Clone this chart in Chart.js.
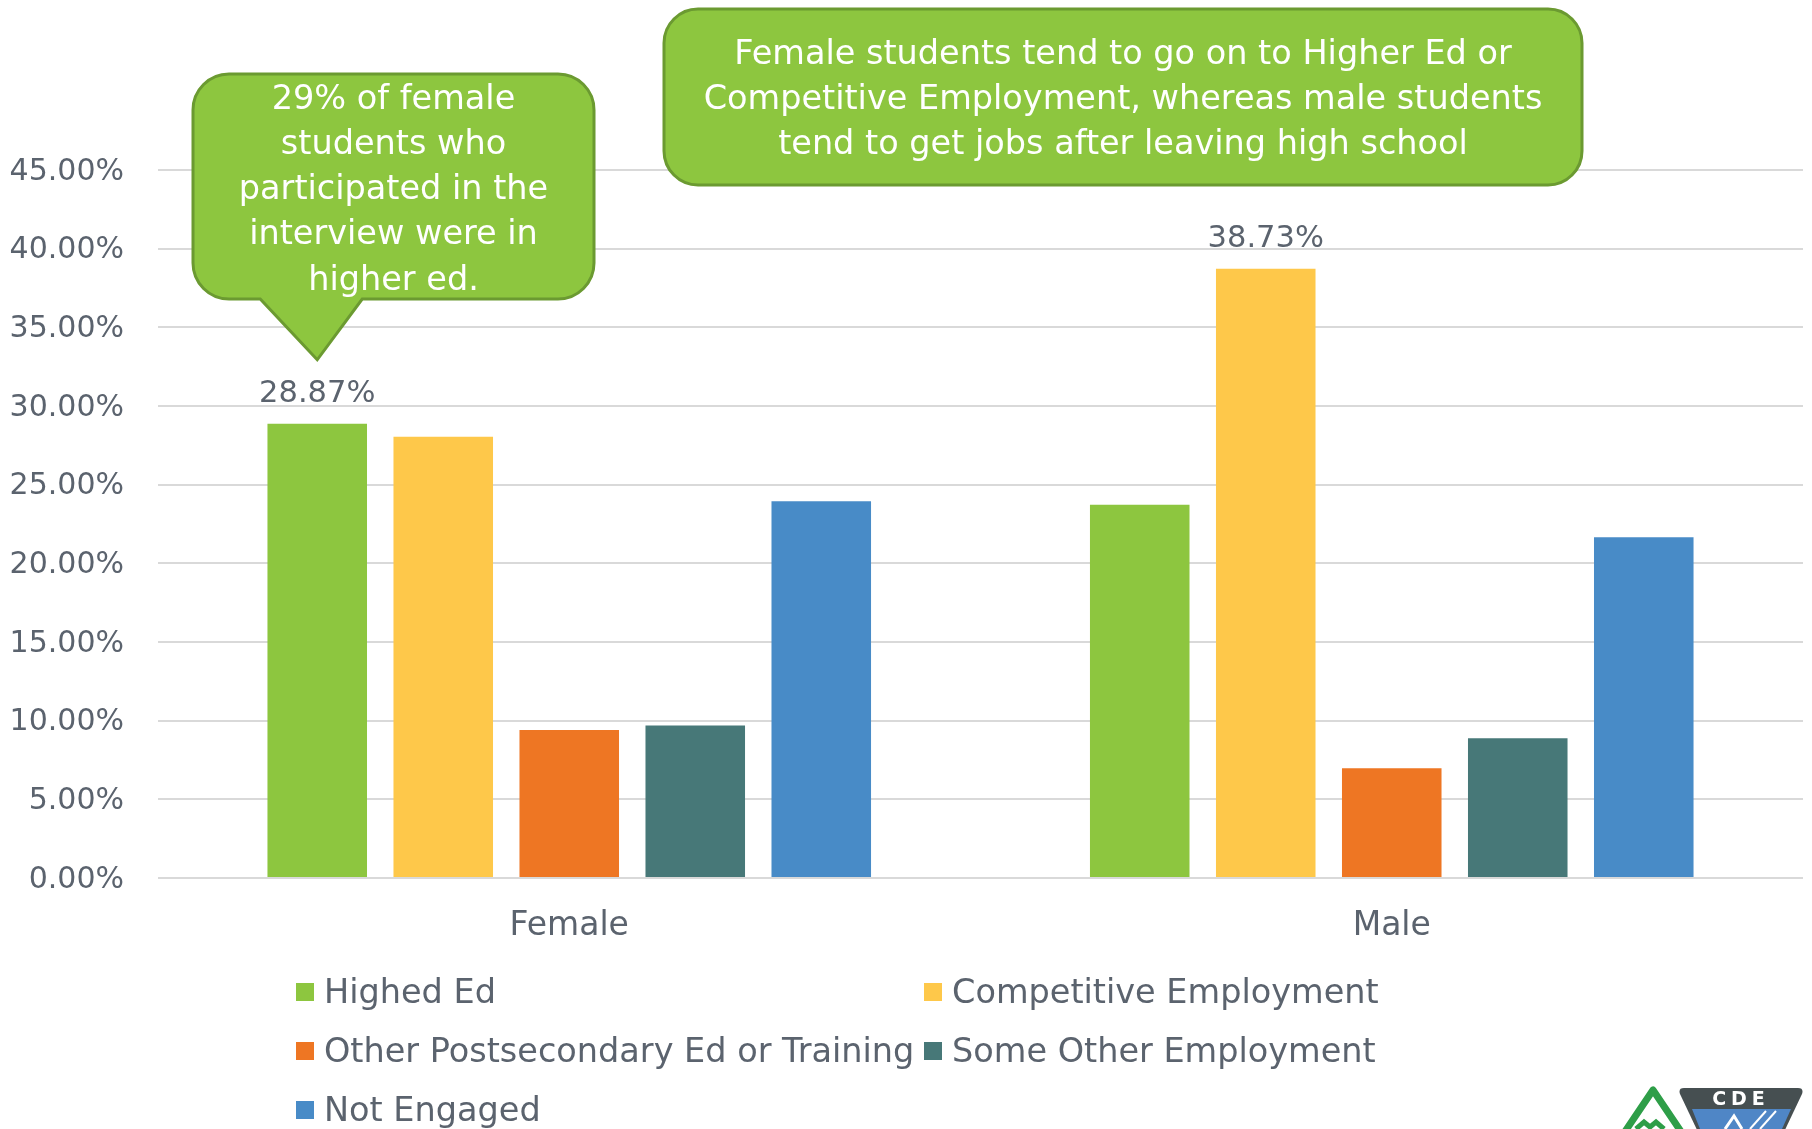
<!DOCTYPE html>
<html>
<head>
<meta charset="utf-8">
<script src="https://cdn.jsdelivr.net/npm/chart.js@4.4.0/dist/chart.umd.min.js"></script>
<style>
  html, body { margin: 0; padding: 0; background: #fff; }
  .wrap { position: relative; width: 1812px; height: 1129px; overflow: hidden; }
  #myChart { position: absolute; left: 0; top: 0; }
  .legend__item {
    position: absolute;
    display: flex;
    align-items: center;
    white-space: nowrap;
    font-family: "DejaVu Sans", sans-serif;
    font-size: 33.5px;
    color: #5B636E;
    line-height: 1;
  }
  .legend__box { width: 18px; height: 18px; margin-right: 10px; }
  .logo { position: absolute; left: 1600px; top: 1080px; }
</style>
</head>
<body>
<div class="wrap">
  <canvas id="myChart" width="1812" height="1129"></canvas>
  <div class="legend"></div>
  <svg class="logo" width="212" height="49" viewBox="0 0 212 49">
    <polygon points="53,10 22,56 84,56" fill="none" stroke="#2E9E48" stroke-width="7" stroke-linejoin="round"/>
    <polyline points="36,49 44,42 50,47 56,42 64,49" fill="none" stroke="#2E9E48" stroke-width="5"/>
    <path d="M84,8 L198,8 Q204,8 202,14 L184,52 L98,52 L80,14 Q78,8 84,8 Z" fill="#464F51"/>
    <polygon points="92,29 191,29 182,49 100,49" fill="#4F86C6"/>
    <polyline points="125,49 134,36 142,49" fill="none" stroke="#fff" stroke-width="3"/>
    <line x1="150" y1="49" x2="166" y2="31" stroke="#fff" stroke-width="2"/>
    <line x1="160" y1="49" x2="176" y2="31" stroke="#fff" stroke-width="2"/>
    <text x="141" y="25" fill="#fff" font-family="DejaVu Sans" font-weight="bold" font-size="19" letter-spacing="5" text-anchor="middle">CDE</text>
  </svg>
</div>
<script>
const categories = ["Female", "Male"];
const seriesNames = [
  "Highed Ed",
  "Competitive Employment",
  "Other Postsecondary Ed or Training",
  "Some Other Employment",
  "Not Engaged"
];
const highedEd = [28.87, 23.72];
const competitiveEmployment = [28.05, 38.73];
const otherPostsecondary = [9.40, 6.98];
const someOtherEmployment = [9.69, 8.88];
const notEngaged = [23.94, 21.66];
const seriesColors = ["#8DC63F", "#FEC84A", "#EE7623", "#477878", "#488BC7"];

// y axis ticks 0.00% .. 45.00%
const yMin = 0;
const yMax = 45;
const yStep = 5;

// which bars carry a value label: [series, category]
const labelledBars = [[0, 0], [1, 1]];

const calloutLeft = [
  "29% of female",
  "students who",
  "participated in the",
  "interview were in",
  "higher ed."
];
const calloutTop = [
  "Female students tend to go on to Higher Ed or",
  "Competitive Employment, whereas male students",
  "tend to get jobs after leaving high school"
];

const fontFamily = '"DejaVu Sans", sans-serif';
const textGray = "#5B636E";

// =========================
// ======= CALLOUTS ==========
//==========================

function roundBoxPath(ctx, x, y, w, h, r, tail) {
  ctx.beginPath();
  ctx.moveTo(x + r, y);
  ctx.lineTo(x + w - r, y);
  ctx.arcTo(x + w, y, x + w, y + r, r);
  ctx.lineTo(x + w, y + h - r);
  ctx.arcTo(x + w, y + h, x + w - r, y + h, r);
  if (tail) {
    ctx.lineTo(tail.right, y + h);
    ctx.lineTo(tail.x, tail.y);
    ctx.lineTo(tail.left, y + h);
  }
  ctx.lineTo(x + r, y + h);
  ctx.arcTo(x, y + h, x, y + h - r, r);
  ctx.lineTo(x, y + r);
  ctx.arcTo(x, y, x + r, y, r);
  ctx.closePath();
}

function drawCallout(ctx, box, lines, tail) {
  ctx.save();
  roundBoxPath(ctx, box.x, box.y, box.w, box.h, box.r, tail);
  ctx.fillStyle = "#8DC63F";
  ctx.fill();
  ctx.lineWidth = 3;
  ctx.strokeStyle = "#6B9A31";
  ctx.stroke();
  ctx.fillStyle = "#fff";
  ctx.font = box.font + "px " + fontFamily;
  ctx.textAlign = "center";
  ctx.textBaseline = "middle";
  lines.forEach(function(line, i) {
    ctx.fillText(line, box.x + box.w / 2, box.firstLine + i * box.lineGap);
  });
  ctx.restore();
}

const calloutPlugin = {
  id: "callouts",
  afterDraw: function(chart) {
    const ctx = chart.ctx;
    const bar = chart.getDatasetMeta(0).data[0];
    const tipY = bar.y - 64;
    drawCallout(ctx,
      { x: 193, y: 74, w: 401, h: 225, r: 36, font: 33.5, firstLine: 100, lineGap: 45.2 },
      calloutLeft,
      { x: bar.x, y: tipY, left: bar.x - 57, right: bar.x + 45 });
    drawCallout(ctx,
      { x: 664, y: 9, w: 918, h: 176, r: 34, font: 33.5, firstLine: 55, lineGap: 45.2 },
      calloutTop);
  }
};

// =========================
// ======= VALUE LABELS ==========
//==========================

const valueLabelPlugin = {
  id: "valueLabels",
  afterDatasetsDraw: function(chart) {
    const ctx = chart.ctx;
    ctx.save();
    ctx.font = "30.5px " + fontFamily;
    ctx.fillStyle = textGray;
    ctx.textAlign = "center";
    ctx.textBaseline = "middle";
    for (let pair of labelledBars) {
      const bar = chart.getDatasetMeta(pair[0]).data[pair[1]];
      const value = chart.data.datasets[pair[0]].data[pair[1]];
      ctx.fillText(value.toFixed(2) + "%", bar.x, bar.y - 30);
    }
    ctx.restore();
  }
};

// =========================
// ======= CHART ==========
//==========================

const seriesValues = [highedEd, competitiveEmployment, otherPostsecondary, someOtherEmployment, notEngaged];

Chart.defaults.font.family = fontFamily;
Chart.defaults.color = textGray;

const ctx = document.getElementById("myChart").getContext("2d");

const chart = new Chart(ctx, {
  type: "bar",
  data: {
    labels: categories,
    datasets: seriesNames.map(function(name, i) {
      return {
        label: name,
        data: seriesValues[i],
        backgroundColor: seriesColors[i],
        borderWidth: 0,
        categoryPercentage: 0.766,
        barPercentage: 0.79
      };
    })
  },
  options: {
    responsive: false,
    animation: false,
    layout: { padding: { top: 170, left: 0, right: 9, bottom: 171 } },
    plugins: {
      legend: { display: false },
      tooltip: { enabled: false }
    },
    scales: {
      x: {
        grid: { display: false, drawTicks: false },
        border: { display: false },
        ticks: { font: { size: 33 }, color: textGray, padding: 29 },
        afterFit: function(scale) { scale.height = 80; }
      },
      y: {
        min: yMin,
        max: yMax,
        grid: { color: "#D9D9D9", lineWidth: 2, drawTicks: false },
        border: { display: false },
        ticks: {
          stepSize: yStep,
          font: { size: 30 },
          color: textGray,
          padding: 34,
          labelOffset: 2,
          callback: function(value) { return value.toFixed(2) + "%"; }
        },
        afterFit: function(scale) { scale.width = 158; }
      }
    }
  },
  plugins: [valueLabelPlugin, calloutPlugin]
});

// =========================
// ======= LEGEND ==========
//==========================

const legend = document.querySelector(".legend");
seriesNames.forEach(function(name, i) {
  const item = document.createElement("div");
  item.className = "legend__item";
  item.style.left = (296 + (i % 2) * 628) + "px";
  item.style.top = (975 + Math.floor(i / 2) * 59) + "px";
  item.innerHTML = '<span class="legend__box" style="background:' + seriesColors[i] + '"></span>' + name;
  legend.appendChild(item);
});
</script>
</body>
</html>
